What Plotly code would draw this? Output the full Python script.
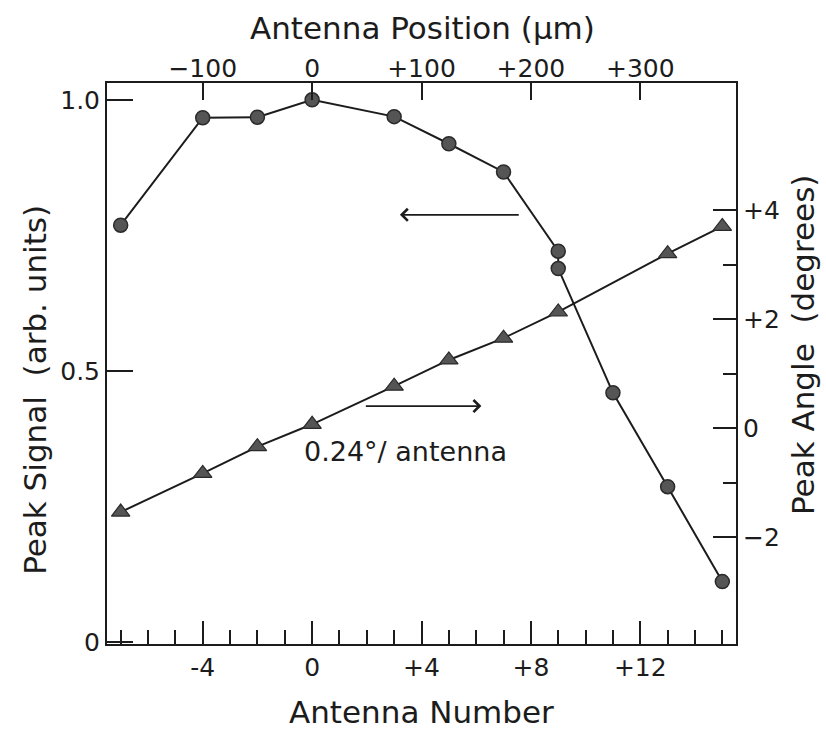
import plotly.graph_objects as go

# ---- data ----
signal_antenna = [-7, -4, -2, 0, 3, 5, 7, 9, 9, 11, 13, 15]
peak_signal = [0.769, 0.967, 0.968, 1.0, 0.969, 0.919, 0.867, 0.721, 0.689, 0.460, 0.287, 0.112]

angle_antenna = [-7, -4, -2, 0, 3, 5, 7, 9, 13, 15]
peak_angle = [-1.54, -0.83, -0.34, 0.07, 0.77, 1.25, 1.65, 2.13, 3.20, 3.70]

x_major = [-4, 0, 4, 8, 12]
x_major_text = ["-4", "0", "+4", "+8", "+12"]
x_minor = list(range(-7, 16))

UM_PER_ANTENNA = 25
top_major = [-100, 0, 100, 200, 300]
top_major_text = ["\u2212100", "0", "+100", "+200", "+300"]

y_major = [0, 0.5, 1.0]
y_major_text = ["0", "0.5", "1.0"]

y2_major = [-2, 0, 2, 4]
y2_major_text = ["\u22122", "0", "+2", "+4"]
y2_minor = [-1, 1, 3]

X_RANGE = [-7.5, 15.5]
Y_RANGE = [-0.003, 1.031]
Y2_RANGE = [-3.96, 6.33]

INK = "#1c1c1c"
FONT = "DejaVu Sans"
TICK_SIZE = 25
TITLE_SIZE = 31

fig = go.Figure()

fig.add_trace(go.Scatter(
    x=signal_antenna, y=peak_signal, mode="lines+markers",
    line=dict(color=INK, width=2),
    marker=dict(symbol="circle", size=14, color="#555555", line=dict(color="#2a2a2a", width=1.5)),
    xaxis="x", yaxis="y", showlegend=False, hoverinfo="skip",
))
fig.add_trace(go.Scatter(
    x=angle_antenna, y=peak_angle, mode="lines+markers",
    line=dict(color=INK, width=2),
    marker=dict(symbol="triangle-up", size=16, color="#555555", line=dict(color="#2a2a2a", width=1.2)),
    xaxis="x", yaxis="y2", showlegend=False, hoverinfo="skip",
))
# invisible companion trace so the top (position in um) axis is drawn
fig.add_trace(go.Scatter(
    x=[a * UM_PER_ANTENNA for a in signal_antenna], y=peak_signal, mode="markers",
    marker=dict(opacity=0), xaxis="x2", yaxis="y", showlegend=False, hoverinfo="skip",
))

axis_common = dict(showline=True, linecolor=INK, linewidth=2, showgrid=False, zeroline=False,
                   ticks="inside", tickcolor=INK, tickwidth=1.5,
                   tickfont=dict(family=FONT, size=TICK_SIZE, color=INK), tickmode="array")

fig.update_layout(
    width=826, height=732, autosize=False,
    margin=dict(l=107, r=90, t=83, b=88),
    paper_bgcolor="white", plot_bgcolor="white",
    xaxis=dict(range=X_RANGE, tickvals=x_major, ticktext=x_major_text, ticklen=23,
               minor=dict(tickmode="array", tickvals=x_minor, ticklen=14, ticks="inside",
                          tickcolor=INK, tickwidth=1.5),
               **axis_common),
    xaxis2=dict(range=[X_RANGE[0] * UM_PER_ANTENNA, X_RANGE[1] * UM_PER_ANTENNA],
                overlaying="x", side="top", anchor="y", tickvals=top_major, ticktext=top_major_text,
                ticklen=17, ticklabelstandoff=-6, **axis_common),
    yaxis=dict(range=Y_RANGE, tickvals=y_major, ticktext=y_major_text, ticklen=26, **axis_common),
    yaxis2=dict(range=Y2_RANGE, overlaying="y", side="right", tickvals=y2_major,
                ticktext=y2_major_text, ticklen=23,
                minor=dict(tickmode="array", tickvals=y2_minor, ticklen=13, ticks="inside",
                           tickcolor=INK, tickwidth=1.5),
                **axis_common),
)

title_font = dict(family=FONT, size=TITLE_SIZE, color=INK)
annotations = [
    dict(text="Antenna Number", xref="paper", yref="paper", x=0.5, y=-0.122,
         xanchor="center", yanchor="middle", showarrow=False, font=title_font),
    dict(text="Antenna Position (\u03bcm)", xref="paper", yref="paper", x=0.502, y=1.098,
         xanchor="center", yanchor="middle", showarrow=False, font=title_font),
    dict(text="Peak Signal  (arb. units)", xref="paper", yref="paper", x=-0.1145, y=0.453,
         xanchor="center", yanchor="middle", showarrow=False, font=title_font, textangle=-90),
    dict(text="Peak Angle  (degrees)", xref="paper", yref="paper", x=1.1065, y=0.533,
         xanchor="center", yanchor="middle", showarrow=False, font=title_font, textangle=-90),
    dict(text="0.24\u00b0/ antenna", xref="x", yref="y", x=3.42, y=0.351,
         xanchor="center", yanchor="middle", showarrow=False,
         font=dict(family=FONT, size=27, color=INK)),
    # arrow pointing left (signal -> left axis)
    dict(text="", xref="x", yref="y", x=3.21, y=0.788, axref="x", ayref="y", ax=7.61, ay=0.788,
         showarrow=True, arrowhead=4, arrowsize=1.3, arrowwidth=1.8, arrowcolor=INK),
    # arrow pointing right (angle -> right axis)
    dict(text="", xref="x", yref="y", x=6.19, y=0.4356, axref="x", ayref="y", ax=1.91, ay=0.4356,
         showarrow=True, arrowhead=4, arrowsize=1.3, arrowwidth=1.8, arrowcolor=INK),
]
fig.update_layout(annotations=annotations)

fig.write_html("out.html")
